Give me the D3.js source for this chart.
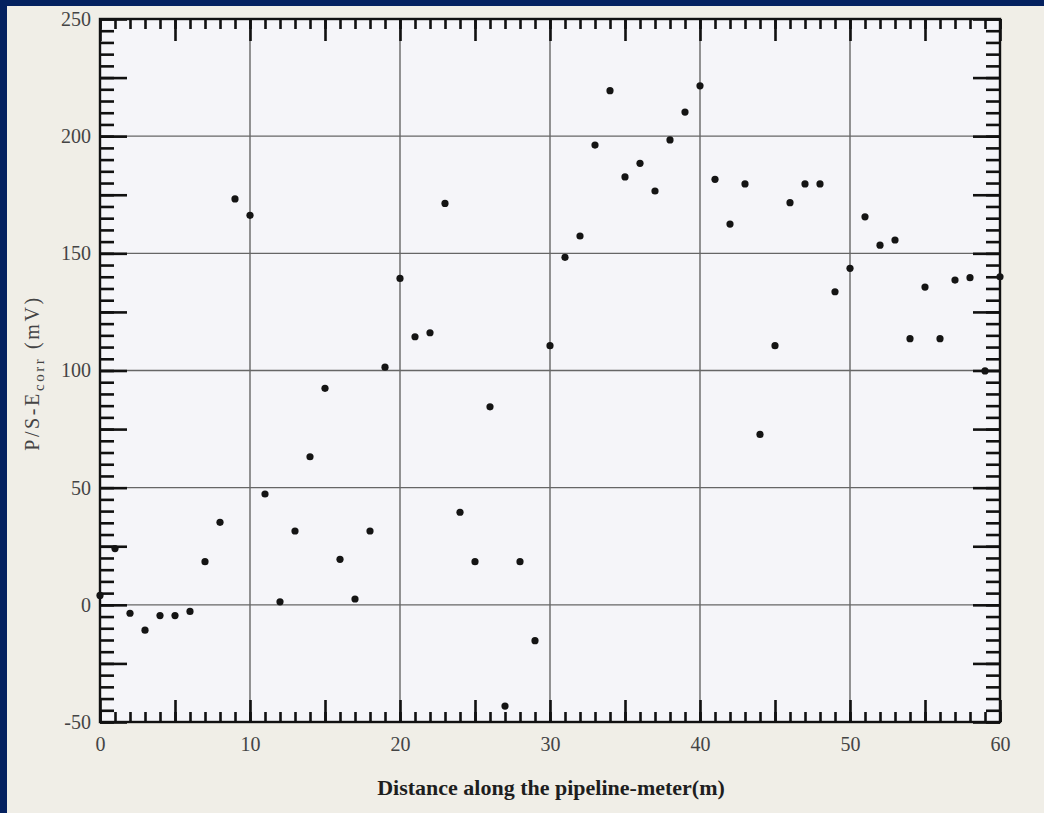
<!DOCTYPE html>
<html>
<head>
<meta charset="utf-8">
<script src="https://cdn.jsdelivr.net/npm/d3@7"></script>
<style>
  html, body { margin: 0; padding: 0; background: #04215f; }
  svg { display: block; }
  text { font-family: "Liberation Serif", "DejaVu Serif", serif; }
</style>
</head>
<body>
<svg id="chart" width="1044" height="813"></svg>
<script>
// Distance along the pipeline (m), one reading per metre
const distance = d3.range(0, 61, 1);
// P/S - Ecorr potential (mV) at each distance
const potential = [
  4, 24, -3.6, -10.8, -4.6, -4.6, -2.8, 18.4, 35.2, 173.2,
  166.2, 47.3, 1.3, 31.5, 63.2, 92.4, 19.4, 2.5, 31.5, 101.4,
  139.3, 114.4, 116.1, 171.3, 39.5, 18.4, 84.5, -43.2, 18.4, -15.3,
  110.6, 148.3, 157.4, 196.2, 219.4, 182.6, 188.4, 176.6, 198.4, 210.3,
  221.5, 181.6, 162.5, 179.6, 72.7, 110.6, 171.6, 179.6, 179.6, 133.6,
  143.6, 165.6, 153.5, 155.7, 113.6, 135.6, 113.6, 138.6, 139.6, 99.8,
  140
];
const xTickLabels = [0, 10, 20, 30, 40, 50, 60];
const yTickLabels = [-50, 0, 50, 100, 150, 200, 250];
const xGrid = [10, 20, 30, 40, 50];
const yGrid = [0, 50, 100, 150, 200];

const svg = d3.select("#chart");
const W = 1044, H = 813;
const plotLeft = 100, plotRight = 1000, plotTop = 19, plotBottom = 722;

// paper background (blue frame shows on top and left edges)
svg.append("rect").attr("x", 7).attr("y", 6).attr("width", W - 7).attr("height", H - 6)
  .attr("fill", "#f0eee7");
svg.append("rect").attr("x", plotLeft).attr("y", plotTop)
  .attr("width", plotRight - plotLeft).attr("height", plotBottom - plotTop)
  .attr("fill", "#f5f5f9");

const x = d3.scaleLinear().domain([0, 60]).range([plotLeft, plotRight]);
const y = d3.scaleLinear().domain([-50, 250]).range([plotBottom, plotTop]);

// grid lines
svg.append("g").selectAll("line").data(xGrid).join("line")
  .attr("x1", d => x(d)).attr("x2", d => x(d))
  .attr("y1", plotTop).attr("y2", plotBottom)
  .attr("stroke", "#666").attr("stroke-width", 1.4);
svg.append("g").selectAll("line").data(yGrid).join("line")
  .attr("x1", plotLeft).attr("x2", plotRight)
  .attr("y1", d => y(d)).attr("y2", d => y(d))
  .attr("stroke", "#666").attr("stroke-width", 1.4);

// inward ticks on all four sides
const xMinor = d3.range(0, 61, 1);
const xMajor = d3.range(0, 61, 5);
const yMinor = d3.range(-50, 251, 5);
const yMajor = d3.range(-50, 251, 25);

function tickGroup(axisFn, scale, values, size, tx, ty) {
  const g = svg.append("g").attr("transform", `translate(${tx},${ty})`)
    .call(axisFn(scale).tickValues(values).tickSize(-size).tickFormat(""));
  g.select(".domain").remove();
  g.selectAll(".tick line").attr("stroke", "#111").attr("stroke-width", 2.6);
  return g;
}
tickGroup(d3.axisBottom, x, xMinor, 10, 0, plotBottom);
tickGroup(d3.axisBottom, x, xMajor, 22, 0, plotBottom);
tickGroup(d3.axisTop, x, xMinor, 10, 0, plotTop);
tickGroup(d3.axisTop, x, xMajor, 22, 0, plotTop);
tickGroup(d3.axisLeft, y, yMinor, 14, plotLeft, 0);
tickGroup(d3.axisLeft, y, yMajor, 27, plotLeft, 0);
tickGroup(d3.axisRight, y, yMinor, 14, plotRight, 0);
tickGroup(d3.axisRight, y, yMajor, 27, plotRight, 0);

// tick labels
const plain = d => String(d);
const xl = svg.append("g").attr("transform", `translate(0,${plotBottom})`)
  .call(d3.axisBottom(x).tickValues(xTickLabels).tickSize(0).tickPadding(15).tickFormat(plain));
xl.select(".domain").remove();
xl.selectAll("text").attr("font-size", 20).attr("fill", "#444")
  .attr("font-family", "Liberation Serif, serif");

const yl = svg.append("g").attr("transform", `translate(${plotLeft},0)`)
  .call(d3.axisLeft(y).tickValues(yTickLabels).tickSize(0).tickPadding(9).tickFormat(plain));
yl.select(".domain").remove();
yl.selectAll("text").attr("font-size", 20).attr("fill", "#444")
  .attr("font-family", "Liberation Serif, serif");

// frame
svg.append("rect").attr("x", plotLeft).attr("y", plotTop)
  .attr("width", plotRight - plotLeft).attr("height", plotBottom - plotTop)
  .attr("fill", "none").attr("stroke", "#111").attr("stroke-width", 2.4);

// data points
svg.append("g").selectAll("circle").data(distance).join("circle")
  .attr("cx", d => x(d))
  .attr("cy", (d, i) => y(potential[i]))
  .attr("r", 3.6)
  .attr("fill", "#141414");

// axis titles
svg.append("text")
  .attr("x", 551).attr("y", 795)
  .attr("text-anchor", "middle")
  .attr("font-size", 22).attr("font-weight", "bold").attr("fill", "#1e1e1e")
  .text("Distance along the pipeline-meter(m)");

const yt = svg.append("text")
  .attr("transform", "translate(39,373) rotate(-90)")
  .attr("text-anchor", "middle")
  .attr("font-size", 20).attr("letter-spacing", 2.6).attr("fill", "#444");
yt.append("tspan").text("P/S-E");
yt.append("tspan").attr("font-size", 15).attr("dy", 5).text("corr");
yt.append("tspan").attr("dy", -5).text(" (mV)");
</script>
</body>
</html>
